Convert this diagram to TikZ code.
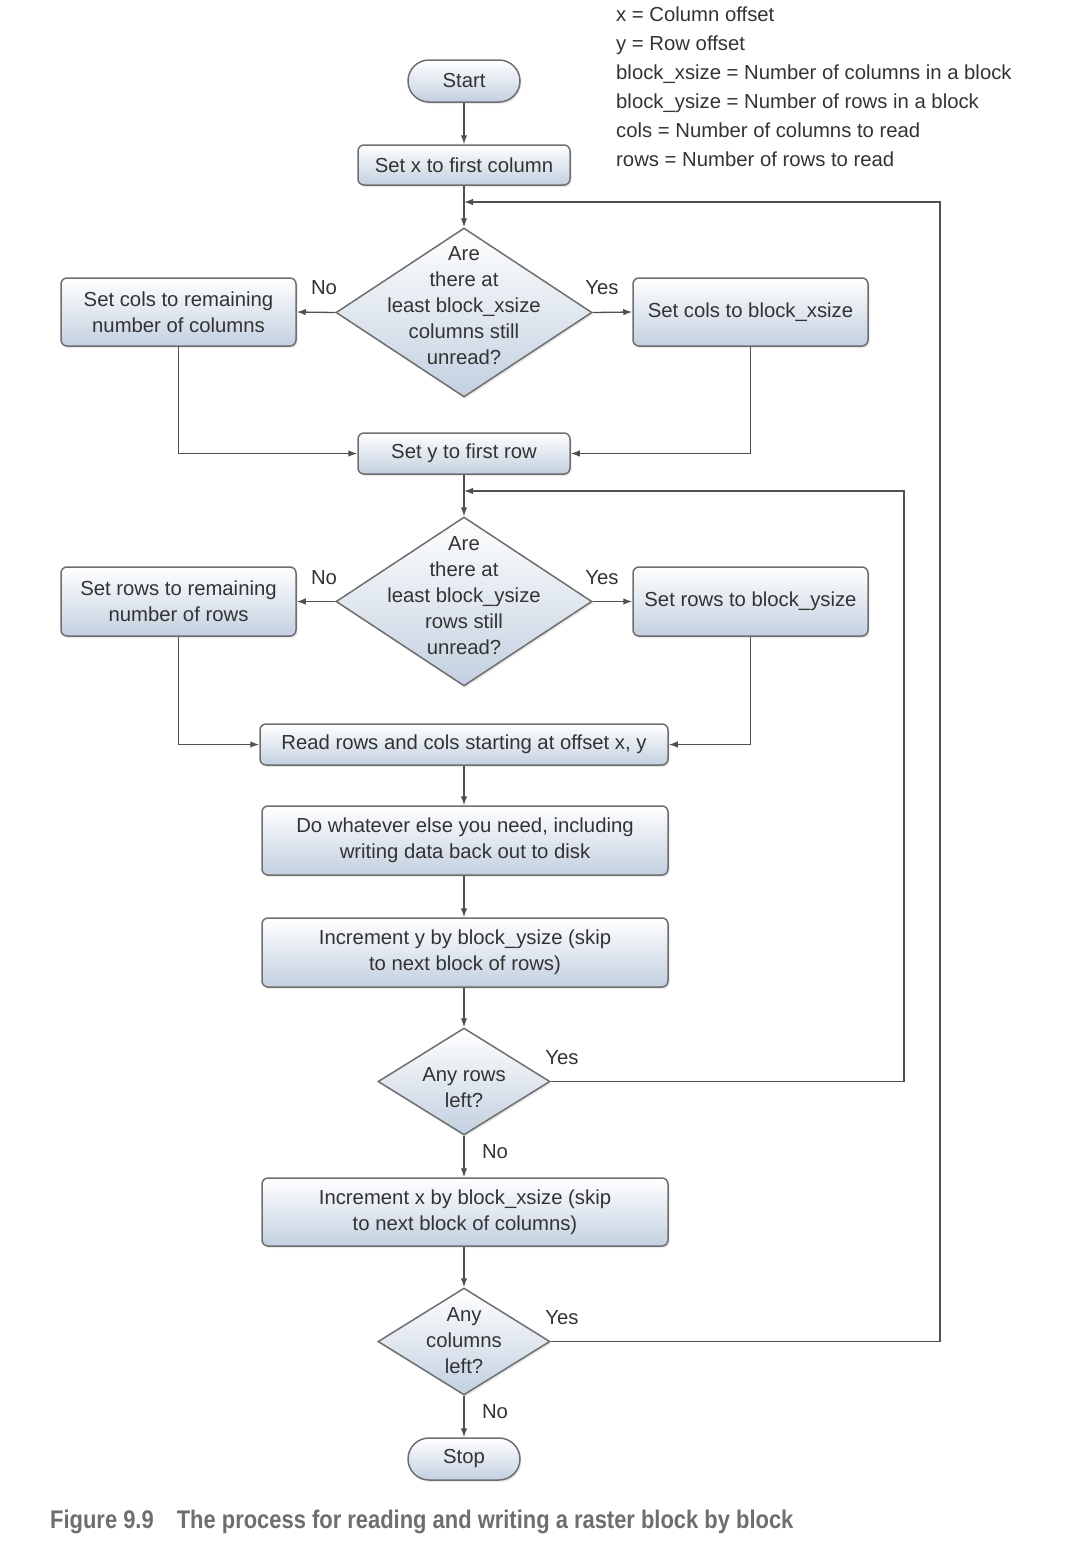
\documentclass[tikz,border=0pt]{standalone}
\usepackage{fontspec}
\setmainfont{Liberation Sans}
\newfontfamily\capfont[FakeStretch=0.86]{Liberation Sans}
\usetikzlibrary{shapes.geometric,shadows,arrows.meta}
\definecolor{txt}{HTML}{333333}
\definecolor{edgec}{HTML}{505050}
\definecolor{bord}{HTML}{6E6E6E}
\definecolor{fillb}{HTML}{C3D0E0}
\definecolor{capc}{HTML}{6E6E6E}
\tikzset{
  every node/.style={font=\fontsize{20.3}{26}\selectfont, text=txt},
  shade/.style={top color=white, bottom color=fillb, draw=bord, line width=1.5pt,
     drop shadow={opacity=0.18, shadow xshift=1.5pt, shadow yshift=-2pt}},
  procbox/.style={shade, rectangle, rounded corners=6pt, align=center, inner sep=0pt},
  pill/.style={shade, rectangle, rounded corners=21pt, inner sep=0pt, minimum width=112pt, minimum height=42pt},
  decide/.style={shade, diamond, inner sep=0pt},
  dtext/.style={align=center, inner sep=0pt},
  lbl/.style={inner sep=0pt},
  legend/.style={anchor=base west, inner sep=0pt},
  conn/.style={draw=edgec, line width=1.3pt},
  arr/.style={conn, -{Latex[length=9pt,width=6.5pt]}},
}
\begin{document}
\begin{tikzpicture}[x=1pt,y=-1pt]
\useasboundingbox (0,0) rectangle (1080,1558);
% legend
\node[legend] (lg1) at (616,21) {x = Column offset};
\node[legend] (lg2) at (616,50) {y = Row offset};
\node[legend] (lg3) at (616,79) {block\_xsize = Number of columns in a block};
\node[legend] (lg4) at (616,108) {block\_ysize = Number of rows in a block};
\node[legend] (lg5) at (616,137) {cols = Number of columns to read};
\node[legend] (lg6) at (616,166) {rows = Number of rows to read};
% nodes
\node[pill] (start) at (464,81) {Start};
\node[procbox, minimum width=212pt, minimum height=40pt] (setx) at (464,165) {Set x to first column};
\node[decide, minimum width=256pt, minimum height=169pt] (d1) at (464,312.5) {};
\node[dtext] (d1t) at (464,306) {Are\\there at\\least block\_xsize\\columns still\\unread?};
\node[procbox, minimum width=235pt, minimum height=68pt] (lc) at (178.5,312) {Set cols to remaining\\number of columns};
\node[procbox, minimum width=235pt, minimum height=68pt] (rc) at (750.5,312) {Set cols to block\_xsize};
\node[procbox, minimum width=212pt, minimum height=41pt] (sety) at (464,453.5) {Set y to first row};
\node[decide, minimum width=256pt, minimum height=169pt] (d2) at (464,601.5) {};
\node[dtext] (d2t) at (464,596) {Are\\there at\\least block\_ysize\\rows still\\unread?};
\node[procbox, minimum width=235pt, minimum height=69pt] (lr) at (178.5,601.5) {Set rows to remaining\\number of rows};
\node[procbox, minimum width=235pt, minimum height=69pt] (rr) at (750.5,601.5) {Set rows to block\_ysize};
\node[procbox, minimum width=408pt, minimum height=41pt] (read) at (464,744.5) {Read rows and cols starting at offset x, y};
\node[procbox, minimum width=406pt, minimum height=69pt] (dowhat) at (465,840.5) {Do whatever else you need, including\\writing data back out to disk};
\node[procbox, minimum width=406pt, minimum height=69pt] (incy) at (465,952.5) {Increment y by block\_ysize (skip\\to next block of rows)};
\node[decide, minimum width=172pt, minimum height=107pt] (d3) at (464,1081.5) {};
\node[dtext] (d3t) at (464,1088) {Any rows\\left?};
\node[procbox, minimum width=406pt, minimum height=68pt] (incx) at (465,1212) {Increment x by block\_xsize (skip\\to next block of columns)};
\node[decide, minimum width=172pt, minimum height=107pt] (d4) at (464,1341.5) {};
\node[dtext] (d4t) at (464,1341) {Any\\columns\\left?};
\node[pill] (stop) at (464,1459) {Stop};
% labels
\node[lbl] (no1) at (324,288) {No};
\node[lbl] (yes1) at (602,288) {Yes};
\node[lbl] (no2) at (324,578) {No};
\node[lbl] (yes2) at (602,578) {Yes};
\node[lbl] (yes3) at (562,1058) {Yes};
\node[lbl] (no3) at (495,1152) {No};
\node[lbl] (yes4) at (562,1318) {Yes};
\node[lbl] (no4) at (495,1412) {No};
% junctions
\coordinate (j1) at (464,202);
\coordinate (j2) at (464,491);
% connectors
\draw[arr] (start) -- (setx);
\draw[arr] (setx) -- (d1.north);
\draw[arr] (d1.west) -- (lc.east);
\draw[arr] (d1.east) -- (rc.west);
\draw[arr] (lc.south) |- (sety.west);
\draw[arr] (rc.south) |- (sety.east);
\draw[arr] (sety) -- (d2.north);
\draw[arr] (d2.west) -- (lr.east);
\draw[arr] (d2.east) -- (rr.west);
\draw[arr] (lr.south) |- (read.west);
\draw[arr] (rr.south) |- (read.east);
\draw[arr] (read.south) -- (read.south |- dowhat.north);
\draw[arr] (read.south |- dowhat.south) -- (read.south |- incy.north);
\draw[arr] (read.south |- incy.south) -- (d3.north);
\draw[arr] (d3.south) -- (d3.south |- incx.north);
\draw[arr] (d3.south |- incx.south) -- (d4.north);
\draw[arr] (d4.south) -- (stop.north);
\draw[arr] (d3.east) -- (904,1081.5) -- (904,491) -- (j2);
\draw[arr] (d4.east) -- (940,1341.5) -- (940,202) -- (j1);
% caption
\node[anchor=base west, inner sep=0pt, font=\capfont\bfseries\fontsize{25.5}{30}\selectfont, text=capc] (cap) at (50,1528) {Figure 9.9\hspace{23pt}The process for reading and writing a raster block by block};
\end{tikzpicture}
\end{document}
